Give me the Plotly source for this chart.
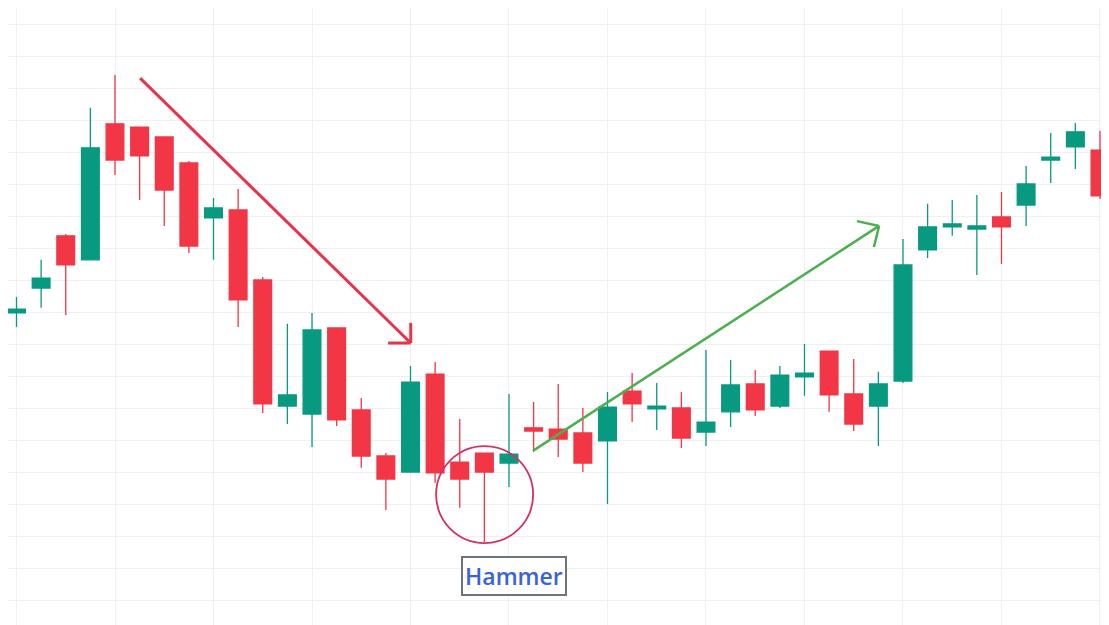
import plotly.graph_objects as go

# velas (indice de sesion, precios)
sesion = list(range(46))
apertura = [108.8, 89.7, 97.5, 113.8, 106.3, 148.8, 147.8, 144.7, 136.6, 119.4,
            121.9, 100.0, 60.6, 58.1, 85.0, 59.4, 45.0, 40.0, 70.6, 43.1,
            45.9, 42.8, 53.8, 53.4, 52.2, 49.7, 65.3, 59.7, 60.0, 52.5,
            58.8, 67.5, 60.6, 69.7, 77.8, 64.4, 60.6, 68.4, 109.4, 116.6,
            115.9, 119.7, 123.4, 137.5, 141.6, 140.6]
maximo = [111.3, 94.7, 106.3, 114.4, 153.8, 164.1, 147.8, 144.7, 137.2, 125.6,
          128.4, 100.9, 86.3, 89.7, 85.0, 63.1, 45.9, 73.1, 74.4, 56.6,
          45.9, 64.4, 61.9, 67.5, 60.0, 65.0, 70.9, 67.8, 65.0, 78.1,
          75.0, 71.9, 73.1, 80.0, 77.8, 75.3, 71.3, 112.8, 123.8, 125.0,
          126.6, 127.5, 135.6, 145.9, 149.1, 146.6]
minimo = [76.3, 85.3, 91.3, 89.1, 106.3, 132.8, 125.0, 116.9, 108.4, 106.3,
          85.3, 58.4, 55.0, 47.8, 54.4, 41.3, 28.1, 40.0, 36.6, 28.8,
          18.1, 35.3, 46.3, 44.7, 40.0, 30.0, 55.6, 53.1, 47.5, 48.1,
          54.1, 57.5, 60.0, 63.8, 58.8, 52.8, 48.1, 67.8, 106.9, 113.8,
          101.6, 105.0, 116.9, 130.3, 134.7, 125.3]
cierre = [78.8, 90.9, 100.6, 104.7, 141.3, 137.5, 138.8, 128.1, 110.6, 122.5,
          93.8, 61.3, 64.1, 84.4, 56.3, 45.0, 37.8, 68.1, 39.7, 37.8,
          40.0, 45.6, 52.8, 50.3, 42.8, 60.3, 61.3, 60.6, 50.6, 55.6,
          67.2, 59.4, 70.3, 70.9, 64.1, 55.0, 67.5, 104.7, 116.6, 117.5,
          116.9, 116.6, 130.0, 138.4, 146.3, 126.3]

# flechas y marca del patron (sesion, precio)
flecha_baja = [(6.02, 163.1), (17.01, 80.3)]
punta_baja = [(16.09, 80.3), (17.01, 86.6)]
flecha_alta = [(21.97, 46.6), (36.03, 116.9)]
punta_alta = [(35.13, 118.4), (35.82, 110.3)]
circulo = [(18.04, 17.8), (21.98, 48.1)]
etiqueta = (21.22, 7.5, "Hammer")

verde = "#089981"
rojo = "#f23645"

fig = go.Figure(data=go.Candlestick(
    x=sesion, open=apertura, high=maximo, low=minimo, close=cierre,
    increasing=dict(line=dict(color=verde, width=1.3), fillcolor=verde),
    decreasing=dict(line=dict(color=rojo, width=1.3), fillcolor=rojo),
    hoverinfo="skip",
))

formas = []
for inicio, fin, col, ancho in [
    (flecha_baja[0], flecha_baja[1], "#e8334a", 3),
    (punta_baja[0], flecha_baja[1], "#e8334a", 3),
    (punta_baja[1], flecha_baja[1], "#e8334a", 3),
    (flecha_alta[0], flecha_alta[1], "#4caf50", 2.5),
    (punta_alta[0], flecha_alta[1], "#4caf50", 2.5),
    (punta_alta[1], flecha_alta[1], "#4caf50", 2.5),
]:
    formas.append(dict(type="line", xref="x", yref="y",
                       x0=inicio[0], y0=inicio[1], x1=fin[0], y1=fin[1],
                       line=dict(color=col, width=ancho)))
formas.append(dict(type="circle", xref="x", yref="y",
                   x0=circulo[0][0], y0=circulo[0][1], x1=circulo[1][0], y1=circulo[1][1],
                   line=dict(color="#d62f62", width=1.8)))

# la pagina deja 8px de margen en el body: figura un poco menor y rangos corridos
fig.update_layout(
    width=1101, height=617,
    margin=dict(l=0, r=0, t=0, b=0),
    paper_bgcolor="white", plot_bgcolor="white",
    showlegend=False,
    boxgap=0.28, boxgroupgap=0,
    shapes=formas,
    annotations=[dict(
        x=etiqueta[0], y=etiqueta[1], xref="x", yref="y", text=etiqueta[2],
        showarrow=False,
        font=dict(family="Open Sans", size=23, color="#3b63d6", weight=600),
        bordercolor="#6b757b", borderwidth=2, borderpad=2, bgcolor="white",
    )],
    xaxis=dict(range=[0.6548, 45.366], rangeslider=dict(visible=False),
               tick0=1, dtick=4, showticklabels=False, ticks="",
               showgrid=True, gridcolor="#eef0f4", zeroline=False),
    yaxis=dict(range=[-7.8125, 185], tick0=0, dtick=10,
               showticklabels=False, ticks="",
               showgrid=True, gridcolor="#eef0f4", zeroline=False),
)

fig.write_html("out.html")
